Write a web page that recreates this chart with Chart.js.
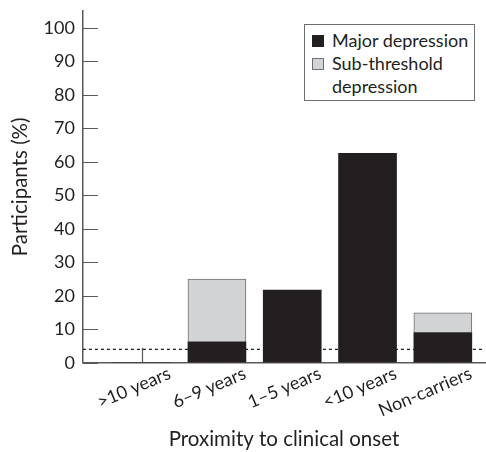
<!DOCTYPE html>
<html lang="en">
<head>
<meta charset="UTF-8">
<title>Depression by proximity to clinical onset</title>
<script src="https://cdn.jsdelivr.net/npm/chart.js"></script>
<style>
  body { margin: 0; background: #fff; }
  .janela { position: relative; width: 486px; height: 452px; }
  #legenda {
    position: absolute; left: 304px; top: 24px; width: 171px; height: 77px;
    box-sizing: border-box; border: 1px solid #6d6e71; background: #fff;
    font: 18px Lato, sans-serif; color: #231f20; padding: 4px 2px 0 7px;
  }
  .item { display: flex; align-items: flex-start; line-height: 23px; }
  .caixa { width: 12px; height: 12px; flex: none; margin: 6px 8px 0 0; box-sizing: border-box; }
</style>
</head>
<body>
<div class="janela">
  <canvas id="grafico" width="486" height="452"></canvas>
  <div id="legenda"></div>
</div>
<script>
// dados
const categorias = ['>10 years', '6\u20139 years', '1\u20135 years', '<10 years', 'Non-carriers'];
const posicoes = [1, 2, 3, 4, 5];
const depressaoMaior = [0, 6.25, 21.7, 62.5, 9.0];
const depressaoSubliminar = [0, 18.75, 0, 0, 5.9];
const nivelReferencia = 4;
const ticksY = [0, 10, 20, 30, 40, 50, 60, 70, 80, 90, 100];

const xMin = 0.22, xMax = 5.56;
const corTexto = '#231f20';
const corEixo = '#58595b';
const fonte = { family: 'Lato', size: 18 };
const fonteTitulo = { family: 'Lato', size: 20.5 };

// marcas curtas para dentro da área, desenhadas atrás das barras
const marcasInternas = {
  id: 'marcasInternas',
  beforeDatasetsDraw(chart) {
    const { ctx, scales: { x, y } } = chart;
    const x0 = x.left, y0 = y.bottom;
    ctx.save();
    ctx.strokeStyle = corEixo;
    ctx.lineWidth = 1.2;
    ctx.beginPath();
    ticksY.forEach(v => {
      const py = Math.round(y.getPixelForValue(v)) + 0.5;
      ctx.moveTo(x0, py);
      ctx.lineTo(x0 + 15, py);
    });
    posicoes.forEach(v => {
      const px = Math.round(x.getPixelForValue(v)) + 0.5;
      ctx.moveTo(px, y0);
      ctx.lineTo(px, y0 - 15);
    });
    ctx.stroke();
    ctx.restore();
  }
};

const dados = {
  datasets: [
    {
      type: 'bar',
      label: 'Major depression',
      data: posicoes.map((p, i) => ({ x: p, y: depressaoMaior[i] })),
      backgroundColor: '#231f20',
      borderColor: '#231f20',
      borderWidth: 0,
      barThickness: 58,
      order: 1
    },
    {
      type: 'bar',
      label: 'Sub-threshold depression',
      data: posicoes.map((p, i) => ({ x: p, y: depressaoSubliminar[i] })),
      backgroundColor: '#d1d3d4',
      borderColor: '#6d6e71',
      borderWidth: 1,
      barThickness: 58,
      order: 1
    },
    {
      type: 'line',
      label: 'reference',
      stack: 'ref',
      data: [{ x: xMin, y: nivelReferencia }, { x: xMax, y: nivelReferencia }],
      borderColor: corTexto,
      borderWidth: 1.3,
      borderDash: [3, 3],
      pointRadius: 0,
      order: 3
    }
  ]
};

const config = {
  type: 'bar',
  data: dados,
  options: {
    responsive: false,
    animation: false,
    layout: { padding: { left: 4, top: 11, right: 1, bottom: 0 } },
    plugins: { legend: { display: false }, tooltip: { enabled: false } },
    scales: {
      x: {
        type: 'linear', min: xMin, max: xMax, stacked: true, offset: false,
        afterBuildTicks: s => { s.ticks = posicoes.map(v => ({ value: v })); },
        ticks: {
          callback: v => categorias[v - 1], autoSkip: false,
          minRotation: 23, maxRotation: 23, labelOffset: 28, padding: 0,
          font: fonte, color: corTexto
        },
        grid: { offset: false, drawOnChartArea: false, drawTicks: false },
        border: { color: corEixo, width: 1.5 },
        title: { display: true, text: 'Proximity to clinical onset', font: fonteTitulo, color: corTexto, padding: { top: 6, bottom: 0 } }
      },
      y: {
        stacked: true, min: 0, max: 105,
        afterBuildTicks: s => { s.ticks = ticksY.map(v => ({ value: v })); },
        // o eixo passa do 100, então não precisa de folga para o rótulo de cima
        afterFit: s => { s.paddingTop = 0; },
        ticks: { padding: 8, font: fonte, color: corTexto },
        grid: { drawOnChartArea: false, drawTicks: false },
        border: { color: corEixo, width: 1.5 },
        title: { display: true, text: 'Participants (%)', font: fonteTitulo, color: corTexto, padding: { top: 4, bottom: 3 } }
      }
    }
  },
  plugins: [marcasInternas]
};

const meuGrafico = new Chart(document.getElementById('grafico'), config);

// legenda com borda dentro da área do gráfico
const legenda = document.getElementById('legenda');
dados.datasets.slice(0, 2).forEach(d => {
  const item = document.createElement('div');
  item.className = 'item';
  const caixa = document.createElement('span');
  caixa.className = 'caixa';
  caixa.style.background = d.backgroundColor;
  caixa.style.border = '1px solid ' + (d.borderWidth ? d.borderColor : d.backgroundColor);
  const texto = document.createElement('span');
  texto.textContent = d.label;
  item.appendChild(caixa);
  item.appendChild(texto);
  legenda.appendChild(item);
});
</script>
</body>
</html>
